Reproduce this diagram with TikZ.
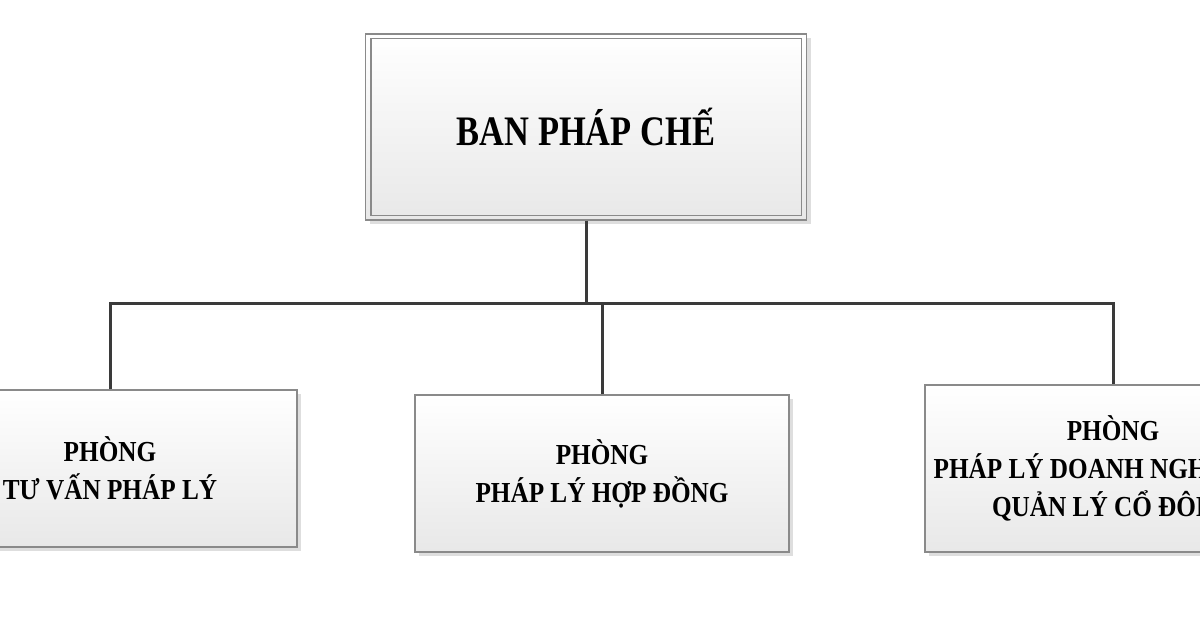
\documentclass[tikz,border=0pt]{standalone}
\usepackage{fontspec}
\setmainfont{Liberation Serif}
\newfontfamily\orgfont[FakeStretch=0.82]{Liberation Serif}
\newfontfamily\subfont[FakeStretch=0.87]{Liberation Serif}
\usetikzlibrary{shadows}
\definecolor{linegray}{HTML}{3A3A3A}
\definecolor{bordergray}{HTML}{8A8A8A}
\tikzset{
  orgbox/.style={draw=bordergray, line width=1.3pt, top color=white, bottom color=black!9,
    drop shadow={shadow xshift=4pt, shadow yshift=-4pt, fill=black!16, opacity=0.8},
    align=center, inner sep=0pt, font=\subfont\bfseries\fontsize{29}{38}\selectfont},
  conn/.style={draw=linegray, line width=3pt},
}
\begin{document}
\begin{tikzpicture}[x=1pt, y=-1pt]
\clip (0,0) rectangle (1200,630);
\fill[white] (0,0) rectangle (1200,630);
% top box
\node[orgbox, minimum width=441pt, minimum height=186pt,
      font=\orgfont\bfseries\fontsize{42}{50}\selectfont] (top) at (586,127) {BAN PHÁP CHẾ};
\draw[bordergray, line width=1.3pt] ([shift={(6,5)}]top.north west) rectangle ([shift={(-6,-5)}]top.south east);
% bottom boxes
\node[orgbox, minimum width=374pt, minimum height=157pt] (left) at (110,468.5) {PHÒNG\\TƯ VẤN PHÁP LÝ};
\node[orgbox, minimum width=374pt, minimum height=157pt] (mid) at (602,473.5) {PHÒNG\\PHÁP LÝ HỢP ĐỒNG};
\node[orgbox, minimum width=376pt, minimum height=167pt] (right) at (1113,468.5) {PHÒNG\\PHÁP LÝ DOANH NGHIỆP VÀ\\QUẢN LÝ CỔ ĐÔNG};
% connectors
\coordinate (bus) at (586,303);
\draw[conn] (top.south) -- (bus);
\draw[conn] (left.north) |- (bus) -| (right.north);
\draw[conn] (mid.north) -- (mid.north |- bus);
\end{tikzpicture}
\end{document}
